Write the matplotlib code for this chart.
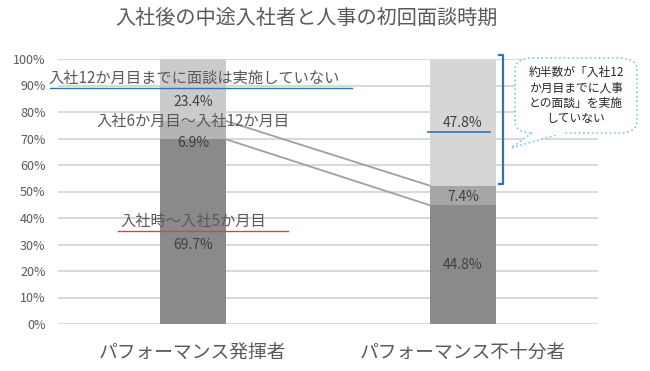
import matplotlib
matplotlib.use("Agg")
import matplotlib.pyplot as plt
from matplotlib.patches import FancyBboxPatch, Polygon
import numpy as np

plt.rcParams['font.family'] = ['Noto Sans CJK JP', 'DejaVu Sans']

# data
categories = ['パフォーマンス発揮者', 'パフォーマンス不十分者']
early = [69.7, 44.8]      # 入社時～入社5か月目
mid = [6.9, 7.4]          # 入社6か月目～入社12か月目
none_ = [23.4, 47.8]      # 入社12か月目までに面談は実施していない
yticks = np.arange(0, 101, 10)

title = '入社後の中途入社者と人事の初回面談時期'
callout = '約半数が「入社12\nか月目までに人事\nとの面談」を実施\nしていない'

text_c = '#595959'
fig = plt.figure(figsize=(6.5, 3.71), dpi=100)
ax = fig.add_axes([58 / 650, 1 - 324 / 371, 540 / 650, 265 / 371])

x = np.arange(len(categories))
w = 0.245
early = np.array(early)
mid = np.array(mid)
none_ = np.array(none_)
ax.bar(x, early, w, color='#8a8a8a', zorder=2)
ax.bar(x, mid, w, bottom=early, color=['#b4b4b4', '#a6a6a6'], zorder=2)
ax.bar(x, none_, w, bottom=early + mid, color=['#cbcbcb', '#d6d6d6'], zorder=2)

# series lines between bars
for top in [early + mid, early]:
    ax.plot([x[0] + w / 2, x[1] - w / 2], [top[0], top[1]], color='#a0a0a0', lw=1.3, zorder=3)

ax.set_xlim(-0.5, 1.5)
ax.set_ylim(0, 100)
ax.set_yticks(yticks)
ax.set_yticklabels([f'{v}%' for v in yticks], color=text_c, fontsize=9)
ax.set_xticks(x)
ax.set_xticklabels(categories, color=text_c, fontsize=13.5)
ax.tick_params(axis='y', length=0, pad=9)
ax.tick_params(axis='x', length=0, pad=13)
for s in ax.spines.values():
    s.set_visible(False)
ax.grid(axis='y', color='#d9d9d9', lw=1.5, zorder=0)

# value labels (positions moved by hand in the original)
lab_y = [(0, 83.9, none_[0]), (0, 68.3, mid[0]), (0, 29.8, early[0]),
         (1, 75.8, none_[1]), (1, 47.9, mid[1]), (1, 22.3, early[1])]
for xi, yi, v in lab_y:
    ax.text(x[xi], yi, f'{v}%', ha='center', va='center', fontsize=10, color='#404040', zorder=4)

# series name labels
ax.text(-0.535, 89.5, '入社12か月目までに面談は実施していない', ha='left', va='bottom',
        fontsize=11, color=text_c, zorder=4)
ax.plot([-0.53, 0.59], [88.9, 88.9], color='#2e75b6', lw=1, clip_on=False, zorder=4)
ax.text(0, 76.6, '入社6か月目～入社12か月目', ha='center', va='center',
        fontsize=11, color=text_c, zorder=4)
ax.text(0, 35.6, '入社時～入社5か月目', ha='center', va='bottom',
        fontsize=11, color=text_c, zorder=4)
ax.plot([-0.278, 0.352], [35.1, 35.1], color='#e8384f', lw=1, zorder=4)
ax.plot([0.87, 1.1], [72.5, 72.5], color='#2e75b6', lw=1.2, zorder=4)

# bracket
ax.plot([1.133, 1.148, 1.148, 1.133], [101.5, 101.5, 52.8, 52.8], color='#2e75b6',
        lw=1.6, clip_on=False, zorder=4)

# callout box
bx0, by0, bx1, by1 = 515 / 650, 1 - 133 / 371, 637 / 650, 1 - 58 / 371
box = FancyBboxPatch((bx0, by0), bx1 - bx0, by1 - by0, boxstyle='round,pad=0,rounding_size=0.03',
                     transform=fig.transFigure, facecolor='white', edgecolor='#7ec8e3',
                     lw=1.2, ls=':', zorder=5)
fig.add_artist(box)
tail = Polygon([(532 / 650, by0), (511 / 650, 1 - 148 / 371), (563 / 650, by0)], closed=False,
               transform=fig.transFigure, facecolor='white', edgecolor='#7ec8e3', lw=1.2, ls=':',
               zorder=6)
fig.add_artist(tail)
fig.add_artist(plt.Line2D([533 / 650, 562 / 650], [by0, by0], transform=fig.transFigure,
                          color='white', lw=2, zorder=7))
fig.text((bx0 + bx1) / 2, (by0 + by1) / 2, callout, ha='center', va='center', fontsize=8.5,
         color='#262626', linespacing=1.25, zorder=8)

fig.text(306 / 650, 1 - 18 / 371, title, ha='center', va='center', fontsize=14.5, color=text_c)

fig.savefig('out.png', dpi=100)
